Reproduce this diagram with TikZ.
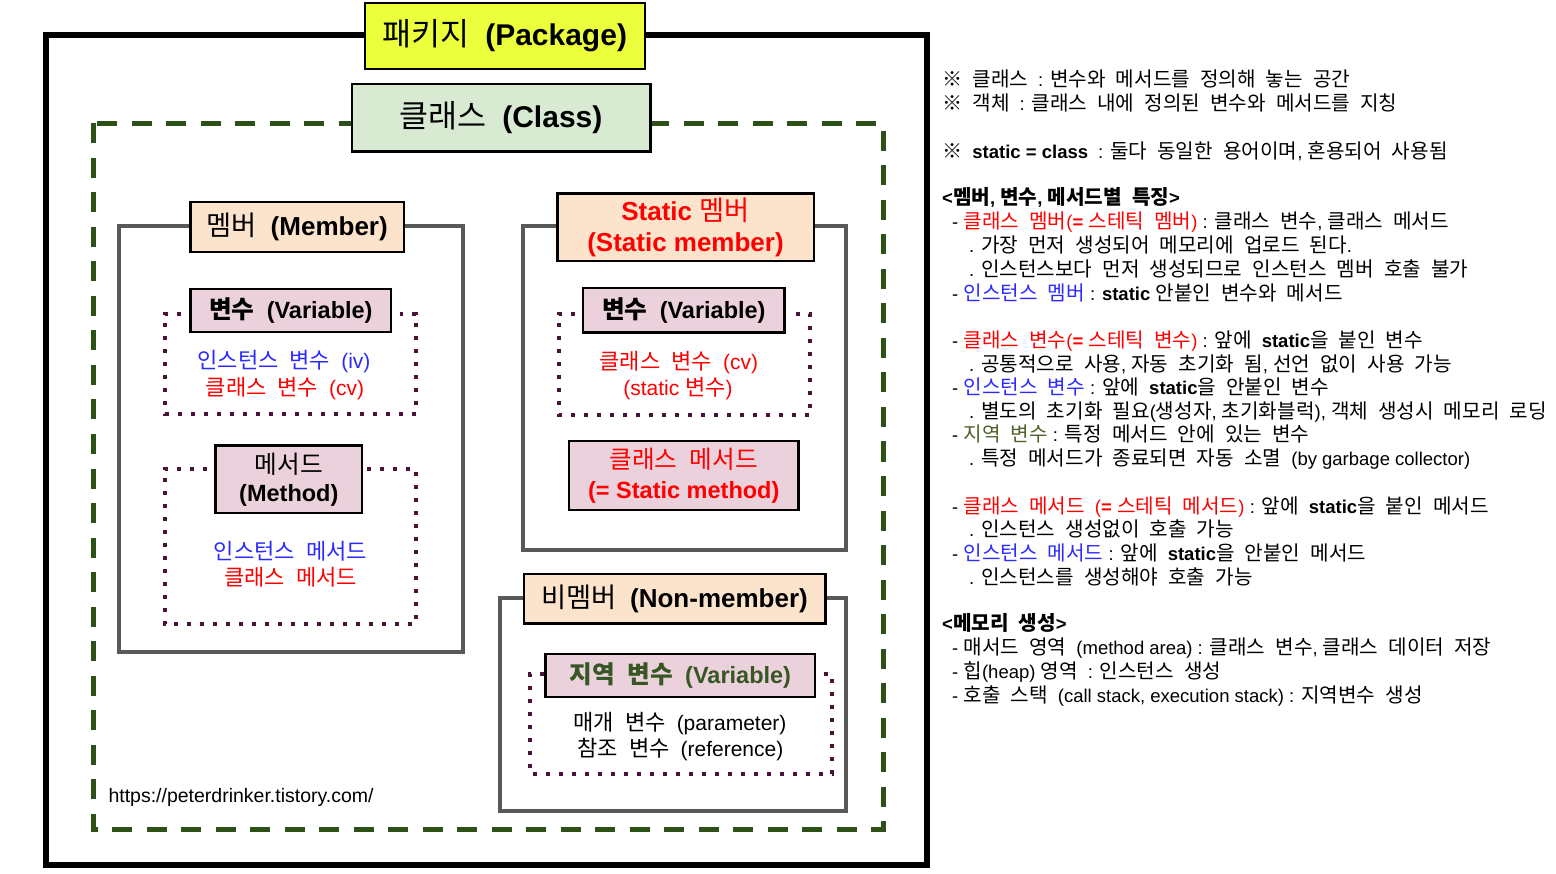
\documentclass[tikz,border=0pt]{standalone}
\usepackage{fontspec}
\setmainfont{Liberation Sans}
\newfontfamily\krA{Noto Sans CJK KR}[Scale=1.09]
\newfontfamily\krB{Noto Sans CJK KR}[Scale=1.05]
\newcommand\krswitch{\krA\fontdimen2\font=0.5em\relax}
\newcommand\krback{\rmfamily}
\newcommand\krlbl{\def\krswitch{\krB\mdseries\fontdimen2\font=.5em\relax}\def\krback{\rmfamily\bfseries}}
\newcommand\krlblb{\def\krswitch{\krB\fontdimen2\font=.5em\relax}\def\krback{\rmfamily}}
\XeTeXinterchartokenstate=1
\newXeTeXintercharclass\krclass
\count255="AC00
\loop\XeTeXcharclass\count255=\krclass\ifnum\count255<"D7A3 \advance\count255 by 1 \repeat
\XeTeXcharclass"203B=\krclass
\XeTeXinterchartoks 0 \krclass={\krswitch}
\XeTeXinterchartoks 4095 \krclass={\krswitch}
\XeTeXinterchartoks \krclass 0={\krback}
\XeTeXinterchartoks 4095 0={\krback}
\definecolor{pkgyel}{HTML}{EBFF3C}
\definecolor{clsgreen}{HTML}{D9EAD3}
\definecolor{peach}{HTML}{FCE4CC}
\definecolor{pinkf}{HTML}{EAD1DC}
\definecolor{cgreen}{HTML}{2D5016}
\definecolor{boxgray}{HTML}{595959}
\definecolor{dotc}{HTML}{4A1438}
\definecolor{kblue}{HTML}{2B2BFF}
\definecolor{kred}{HTML}{FF0000}
\definecolor{kolive}{HTML}{4F6228}
\definecolor{lvgreen}{HTML}{375623}
\begin{document}
\begin{tikzpicture}[x=1pt,y=-1pt,
  pkgline/.style={line width=6.5pt, draw=black},
  classline/.style={line width=5pt, draw=cgreen, dash pattern=on 20pt off 14.5pt},
  grayline/.style={line width=4pt, draw=boxgray},
  dotline/.style={line width=4pt, draw=dotc, dash pattern=on 4pt off 9pt},
  lbl/.style={draw=black, line width=2.5pt, inner sep=0pt, align=center},
  bigl/.style={lbl, font=\fontsize{30}{36}\selectfont\bfseries\krlbl},
  meml/.style={lbl, fill=peach, font=\fontsize{26}{31.6}\selectfont\bfseries\krlbl},
  varl/.style={lbl, fill=pinkf, font=\fontsize{23.5}{28}\selectfont\bfseries\krlblb},
  methl/.style={lbl, fill=pinkf, font=\fontsize{23.5}{28}\selectfont\bfseries\krlbl},
  intext/.style={inner sep=0pt, font=\fontsize{21}{26}\selectfont\krlblb},
  rt/.style={anchor=base west, inner sep=0pt, font=\fontsize{18.5}{23}\selectfont},
  rtb/.style={rt, font=\fontsize{18.5}{23}\selectfont\bfseries}
]
\useasboundingbox (0,0) rectangle (1556,874);
\fill[white] (0,0) rectangle (1556,874);

% frames
\draw[pkgline] (46,35) rectangle (927,865);
\draw[classline] (93,123.5) rectangle (883,829);
\draw[grayline] (119,226.3) rectangle (463.3,652);
\draw[grayline] (523,226.3) rectangle (845.5,550.3);
\draw[grayline] (499.6,598.3) rectangle (846,810.5);

% dotted groups
\draw[dotline] (181,314) -- (164.5,314) -- (164.5,414.5) -- (415.5,414.5) -- (415.5,314) -- (400,314);
\draw[dotline] (207,468.7) -- (164.5,468.7) -- (164.5,624.3) -- (416,624.3) -- (416,468.7) -- (366,468.7);
\draw[dotline] (575,313.7) -- (558.8,313.7) -- (558.8,415.3) -- (810.3,415.3) -- (810.3,313.7) -- (794,313.7);
\draw[dotline] (544,673.7) -- (529.9,673.7) -- (529.9,773.8) -- (831.7,773.8) -- (831.7,673.7) -- (821,673.7);

% labels
\node[bigl, fill=pkgyel, minimum width=280pt, minimum height=66pt] (pkg) at (504.8,36) {패키지 (Package)};
\node[bigl, fill=clsgreen, minimum width=298.5pt, minimum height=67.5pt] (cls) at (501,117.8) {클래스 (Class)};
\node[meml, minimum width=213.5pt, minimum height=50pt] (mem) at (297.3,227) {멤버 (Member)};
\node[varl, minimum width=200.5pt, minimum height=43pt] (mvar) at (290.8,310.5) {변수 (Variable)};
\node[methl, minimum width=146.5pt, minimum height=67.5pt] (mmeth) at (288.8,479.3) {메서드\\(Method)};
\node[meml, text=kred, minimum width=256.5pt, minimum height=67.5pt] (smem) at (685.5,227.3) {Static 멤버\\(Static member)};
\node[varl, minimum width=201.5pt, minimum height=44.5pt] (svar) at (683.8,310.3) {변수 (Variable)};
\node[methl, text=kred, font=\fontsize{23.5}{30}\selectfont\bfseries\krlbl, minimum width=229.5pt, minimum height=68.5pt] (smeth) at (683.8,475.5) {클래스 메서드\\(= Static method)};
\node[meml, minimum width=301.5pt, minimum height=49.5pt] (nmem) at (674.5,598.5) {비멤버 (Non-member)};
\node[varl, text=lvgreen, minimum width=269.5pt, minimum height=43pt] (lvar) at (680.4,675.5) {지역 변수 (Variable)};

% inner texts
\node[intext, text=kblue] (iv) at (284,362) {인스턴스 변수 (iv)};
\node[intext, text=kred] (cv) at (285,389) {클래스 변수 (cv)};
\node[intext, text=kblue] (im) at (290.5,551) {인스턴스 메서드};
\node[intext, text=kred] (cm) at (290.5,577) {클래스 메서드};
\node[intext, text=kred] (scv) at (678.8,362.5) {클래스 변수 (cv)};
\node[intext, text=kred] (ssv) at (678,389) {(static 변수)};
\node[intext] (par) at (680,724) {매개 변수 (parameter)};
\node[intext] (ref) at (680.4,750) {참조 변수 (reference)};
\node[anchor=west, inner sep=0pt, font=\fontsize{19.5}{23}\selectfont] (url) at (108.3,797) {https://peterdrinker.tistory.com/};

% right column
\node[rt] (r1) at (942,86.5) {※ 클래스 : 변수와 메서드를 정의해 놓는 공간};
\node[rt] (r2) at (942,110.5) {※ 객체 : 클래스 내에 정의된 변수와 메서드를 지칭};
\node[rt] (r3) at (942,158.5) {※ \textbf{static = class} : 둘다 동일한 용어이며, 혼용되어 사용됨};
\node[rtb] (r4) at (942,204.5) {<멤버, 변수, 메서드별 특징>};
\node[rt] (r5) at (952,228.5) {- \textcolor{kred}{클래스 멤버(\textbf{=} 스테틱 멤버)} : 클래스 변수, 클래스 메서드};
\node[rt] (r6) at (969,252.5) {. 가장 먼저 생성되어 메모리에 업로드 된다.};
\node[rt] (r7) at (969,276.5) {. 인스턴스보다 먼저 생성되므로 인스턴스 멤버 호출 불가};
\node[rt] (r8) at (952,300.5) {- \textcolor{kblue}{인스턴스 멤버} : \textbf{static} 안붙인 변수와 메서드};
\node[rt] (r9) at (952,347.5) {- \textcolor{kred}{클래스 변수(\textbf{=} 스테틱 변수)} : 앞에 \textbf{static}을 붙인 변수};
\node[rt] (r10) at (969,371.5) {. 공통적으로 사용, 자동 초기화 됨, 선언 없이 사용 가능};
\node[rt] (r11) at (952,394.5) {- \textcolor{kblue}{인스턴스 변수} : 앞에 \textbf{static}을 안붙인 변수};
\node[rt] (r12) at (969,418.5) {. 별도의 초기화 필요(생성자, 초기화블럭), 객체 생성시 메모리 로딩};
\node[rt] (r13) at (952,441.5) {- \textcolor{kolive}{지역 변수} : 특정 메서드 안에 있는 변수};
\node[rt] (r14) at (969,465.5) {. 특정 메서드가 종료되면 자동 소멸 (by garbage collector)};
\node[rt] (r15) at (952,513.5) {- \textcolor{kred}{클래스 메서드 (\textbf{=} 스테틱 메서드)} : 앞에 \textbf{static}을 붙인 메서드};
\node[rt] (r16) at (969,536.5) {. 인스턴스 생성없이 호출 가능};
\node[rt] (r17) at (952,560.5) {- \textcolor{kblue}{인스턴스 메서드} : 앞에 \textbf{static}을 안붙인 메서드};
\node[rt] (r18) at (969,584.5) {. 인스턴스를 생성해야 호출 가능};
\node[rtb] (r19) at (942,630.5) {<메모리 생성>};
\node[rt] (r20) at (952,654.5) {- 매서드 영역 (method area) : 클래스 변수, 클래스 데이터 저장};
\node[rt] (r21) at (952,678.5) {- 힙(heap) 영역 : 인스턴스 생성};
\node[rt] (r22) at (952,702.5) {- 호출 스택 (call stack, execution stack) : 지역변수 생성};
\end{tikzpicture}
\end{document}
